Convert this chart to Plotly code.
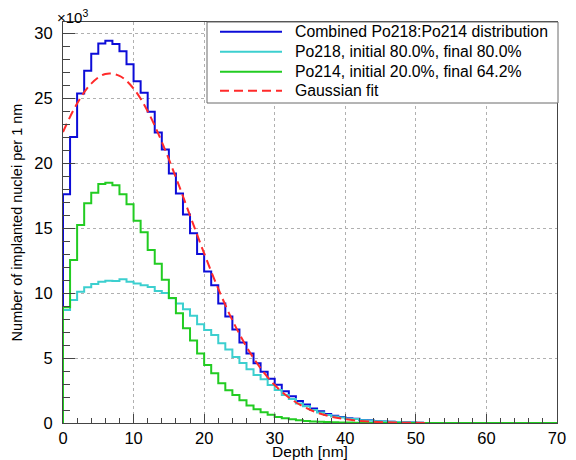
import plotly.graph_objects as go

# ---------------- data (values in units of 10^3 implanted nuclei per 1 nm bin) ----------------
bin_edges = list(range(0, 71))  # 1 nm bins from 0 to 70 nm

combined = [17.6, 22.0, 25.35, 27.1, 28.4, 29.2, 29.4, 29.15, 28.6, 27.6,
            26.3, 25.4, 23.95, 22.35, 21.05, 19.2, 17.65, 16.05, 14.6, 13.0,
            11.65, 10.6, 9.2, 8.2, 7.2, 6.2, 5.35, 4.6, 3.95, 3.4,
            2.95, 2.45, 2.05, 1.7, 1.42, 1.12, 0.9, 0.7, 0.56, 0.46,
            0.36, 0.32, 0.23, 0.21, 0.13, 0.11, 0.09, 0.07, 0.05, 0.03,
            0.02, 0, 0, 0, 0, 0, 0, 0, 0, 0,
            0, 0, 0, 0, 0, 0, 0, 0, 0, 0]

po218 = [8.7, 9.46, 10.1, 10.44, 10.7, 10.87, 10.95, 10.92, 11.05, 10.87,
         10.74, 10.6, 10.46, 10.15, 10.0, 9.6, 9.2, 8.75, 8.25, 7.6,
         7.15, 6.77, 6.13, 5.65, 5.08, 4.62, 4.13, 3.7, 3.36, 2.92,
         2.54, 2.15, 1.84, 1.5, 1.28, 1.0, 0.8, 0.62, 0.5, 0.42,
         0.33, 0.3, 0.22, 0.2, 0.13, 0.11, 0.09, 0.07, 0.05, 0.03,
         0.02, 0, 0, 0, 0, 0, 0, 0, 0, 0,
         0, 0, 0, 0, 0, 0, 0, 0, 0, 0]

po214 = [8.9, 12.54, 15.23, 16.9, 17.72, 18.38, 18.48, 18.3, 17.6, 16.82,
         15.56, 14.67, 13.3, 12.25, 11.03, 9.62, 8.45, 7.29, 6.34, 5.35,
         4.47, 3.82, 3.06, 2.52, 2.15, 1.75, 1.35, 1.05, 0.82, 0.64,
         0.47, 0.37, 0.28, 0.22, 0.15, 0.12, 0.1, 0.07, 0.05, 0.04,
         0.03, 0.02, 0.01, 0, 0, 0, 0, 0, 0, 0,
         0, 0, 0, 0, 0, 0, 0, 0, 0, 0,
         0, 0, 0, 0, 0, 0, 0, 0, 0, 0]

# Gaussian fit curve, every 2 nm
fit_x = [0, 2, 4, 6, 8, 10, 12, 14, 16, 18, 20, 22, 24, 26,
         28, 30, 32, 34, 36, 38, 40, 42, 44, 46, 48, 50, 52]
fit_y = [22.39, 24.58, 26.11, 26.85, 26.71, 25.73, 23.98, 21.63, 18.89, 15.96,
         13.05, 10.33, 7.91, 5.87, 4.21, 2.92, 1.96, 1.28, 0.80, 0.49,
         0.29, 0.165, 0.091, 0.049, 0.025, 0.013, 0.006]

legend_labels = ["Combined Po218:Po214 distribution",
                 "Po218, initial 80.0%, final 80.0%",
                 "Po214, initial 20.0%, final 64.2%",
                 "Gaussian fit"]

x_ticks = [0, 10, 20, 30, 40, 50, 60, 70]
y_ticks = [0, 5, 10, 15, 20, 25, 30]

# ---------------- styles ----------------
C_BLUE = "#0c0cd8"
C_CYAN = "#3ccfcf"
C_GREEN = "#22cc22"
C_RED = "#ff2a2a"
FONT = "Liberation Sans, Arial, Helvetica, sans-serif"


def step_xy(vals):
    xs = [bin_edges[0]] + bin_edges
    ys = [0] + list(vals) + [vals[-1]]
    return xs, ys


fig = go.Figure()
for vals, col, name in [(combined, C_BLUE, legend_labels[0]),
                        (po218, C_CYAN, legend_labels[1]),
                        (po214, C_GREEN, legend_labels[2])]:
    xs, ys = step_xy(vals)
    fig.add_trace(go.Scatter(x=xs, y=ys, mode="lines", line_shape="hv",
                             line=dict(color=col, width=2), name=name,
                             showlegend=False, hoverinfo="skip"))

fig.add_trace(go.Scatter(x=fit_x, y=fit_y, mode="lines", line_shape="spline",
                         line=dict(color=C_RED, width=2, dash="9px,5px"),
                         name=legend_labels[3], showlegend=False))

# page has an 8px body margin: the figure div starts at (8, 8) in the window
OFF = 8
# target plot area in window pixels: left 63, right 557, top 22, bottom 423
L, R, T, B = 63, 557, 22, 423
W, H = 576 - OFF, 460 - OFF


def px(xp):
    return (xp - L) / (R - L)


def py(yp):
    return (B - yp) / (B - T)


# manual ROOT-style legend
shapes = [dict(type="rect", xref="paper", yref="paper",
               x0=px(207), x1=px(558), y0=py(103), y1=py(22),
               fillcolor="white", line=dict(color="#6a6a6a", width=1), layer="above")]
annotations = []
rows = [31.7, 51.7, 71.7, 90.7]
for lab, col, yr, dash in zip(legend_labels, [C_BLUE, C_CYAN, C_GREEN, C_RED], rows,
                              ["solid", "solid", "solid", "9px,5px"]):
    shapes.append(dict(type="line", xref="paper", yref="paper",
                       x0=px(220), x1=px(282), y0=py(yr), y1=py(yr),
                       line=dict(color=col, width=2, dash=dash), layer="above"))
    annotations.append(dict(text=lab, xref="paper", yref="paper", x=px(293), y=py(yr),
                            xanchor="left", yanchor="middle", showarrow=False,
                            font=dict(family=FONT, size=15.8, color="black")))

# axis multiplier, as ROOT draws it above the y axis
annotations.append(dict(text="×10<sup>3</sup>", xref="paper", yref="paper",
                        x=px(56), y=py(16), xanchor="left", yanchor="middle",
                        borderpad=0, showarrow=False,
                        font=dict(family=FONT, size=15, color="black")))

axis_common = dict(showline=True, linecolor="#444444", linewidth=1, mirror=True,
                   ticks="inside", tickcolor="#444444", tickwidth=1,
                   showgrid=True, gridcolor="#b0b0b0", griddash="dot", gridwidth=1,
                   zeroline=False, tickfont=dict(family=FONT, size=16.5, color="black"))

fig.update_layout(
    width=W, height=H,
    margin=dict(l=L - OFF, r=576 - R, t=T - OFF, b=460 - B, autoexpand=False),
    paper_bgcolor="white", plot_bgcolor="white",
    showlegend=False,
    xaxis=dict(range=[0, 70], tickvals=x_ticks, ticklen=9,
               minor=dict(dtick=2, ticklen=5, ticks="inside", tickcolor="#444444", showgrid=False),
               title=dict(text="Depth [nm]", font=dict(family=FONT, size=15.5, color="black"),
                          standoff=0),
               **axis_common),
    yaxis=dict(range=[0, 30.85], tickvals=y_ticks, ticklen=12,
               minor=dict(dtick=1, ticklen=7, ticks="inside", tickcolor="#444444", showgrid=False),
               title=dict(text="Number of implanted nuclei per 1 nm",
                          font=dict(family=FONT, size=14.5, color="black"), standoff=8),
               ticklabelstandoff=6,
               **axis_common),
    shapes=shapes,
    annotations=annotations,
)

fig.write_html("out.html")
